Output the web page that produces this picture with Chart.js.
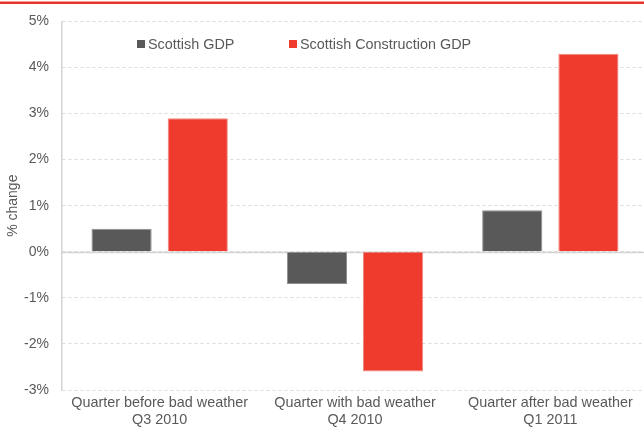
<!DOCTYPE html>
<html>
<head>
<meta charset="utf-8">
<script src="https://cdn.jsdelivr.net/npm/chart.js@4"></script>
<style>
  html, body { margin: 0; background: #fff; overflow: hidden; }
  canvas { display: block; }
</style>
</head>
<body>
<canvas id="gdpChart" width="648" height="430"></canvas>
<script>
Chart.defaults.font.size = 14;
Chart.defaults.font.family = "'Liberation Sans', Arial, sans-serif";
Chart.defaults.color = '#595959';

let quarters = [
  ['Quarter before bad weather', 'Q3 2010'],
  ['Quarter with bad weather', 'Q4 2010'],
  ['Quarter after bad weather', 'Q1 2011']
]
let gdp_vals = [0.5, -0.7, 0.9]
let construction_vals = [2.9, -2.6, 4.3]
let series_names = ['Scottish GDP', 'Scottish Construction GDP']

// red rule on top, solid zero line and the legend inside the plot
const decorPlugin = {
  id: 'decor',
  beforeDraw(chart) {
    const c = chart.ctx
    c.save()
    c.fillStyle = '#e8342b'
    c.fillRect(0, 1.5, chart.width, 2.5)
    c.restore()
  },
  beforeDatasetsDraw(chart) {
    const c = chart.ctx
    const y = Math.round(chart.scales.y.getPixelForValue(0)) + 0.5
    c.save()
    c.strokeStyle = '#d4d4d4'
    c.lineWidth = 1.5
    c.beginPath()
    c.moveTo(chart.chartArea.left, y)
    c.lineTo(chart.chartArea.right, y)
    c.stroke()
    c.restore()
  },
  afterDraw(chart) {
    const c = chart.ctx
    const xs = [137, 289]
    c.save()
    c.font = "14.4px 'Liberation Sans', Arial, sans-serif"
    c.textBaseline = 'alphabetic'
    chart.data.datasets.forEach(function(ds, i) {
      c.fillStyle = ds.backgroundColor
      c.fillRect(xs[i], 40, 8, 8)
      c.fillStyle = '#595959'
      c.fillText(ds.label, xs[i] + 11, 48.5)
    })
    c.restore()
  }
}

const ctx = document.getElementById('gdpChart').getContext('2d');

var myChart = new Chart(ctx, {
  type: 'bar',
  data: {
    labels: quarters,
    datasets: [{
      label: series_names[0],
      data: gdp_vals,
      backgroundColor: '#595959',
      borderColor: '#8e8e8e',
      borderWidth: 1
    }, {
      label: series_names[1],
      data: construction_vals,
      backgroundColor: '#ee3b2e',
      borderColor: '#f48a82',
      borderWidth: 1
    }]
  },
  options: {
    responsive: false,
    animation: false,
    devicePixelRatio: 1,
    categoryPercentage: 0.78,
    barPercentage: 0.79,
    layout: { padding: { top: 11, right: 0, bottom: 0, left: 0 } },
    plugins: {
      legend: { display: false },
      tooltip: { enabled: false }
    },
    scales: {
      x: {
        grid: { display: false, drawTicks: false },
        border: { display: false },
        ticks: {
          padding: 4,
          maxRotation: 0,
          autoSkip: false,
          font: { size: 14.4, lineHeight: 1.22 }
        },
        afterFit(scale) { scale.height = 40 }
      },
      y: {
        min: -3,
        max: 5,
        ticks: {
          stepSize: 1,
          padding: 13,
          callback: function(v) { return v + '%' }
        },
        grid: {
          color: '#d9d9d9',
          drawTicks: false
        },
        border: { display: true, color: '#d4d4d4', width: 1.5, dash: [3, 3] },
        title: {
          display: true,
          text: '% change',
          padding: { top: 5, bottom: 0 },
          font: { size: 14 }
        },
        afterFit(scale) { scale.width = 62 }
      }
    }
  },
  plugins: [decorPlugin]
});
</script>
</body>
</html>
